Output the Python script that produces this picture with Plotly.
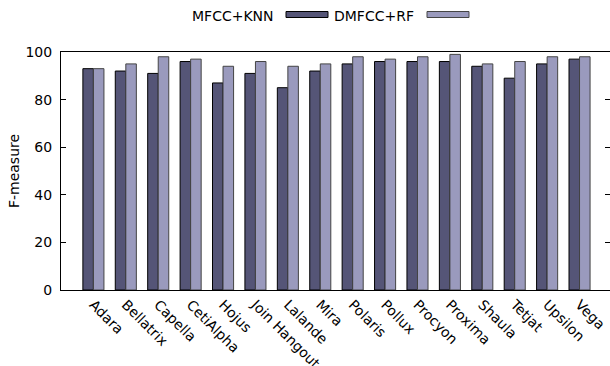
import plotly.graph_objects as go

categories = ["Adara", "Bellatrix", "Capella", "CetiAlpha", "Hojus", "Join Hangout",
              "Lalande", "Mira", "Polaris", "Pollux", "Procyon", "Proxima",
              "Shaula", "Tetjat", "Upsilon", "Vega"]
mfcc_knn = [93, 92, 91, 96, 87, 91, 85, 92, 95, 96, 96, 96, 94, 89, 95, 97]
dmfcc_rf = [93, 95, 98, 97, 94, 96, 94, 95, 98, 97, 98, 99, 95, 96, 98, 98]
y_ticks = [0, 20, 40, 60, 80, 100]
series_names = ["MFCC+KNN", "DMFCC+RF"]

dark = "#555577"
light = "#9a9abd"
font = "DejaVu Sans"
fs = 14

fig = go.Figure()
fig.add_trace(go.Bar(x=categories, y=mfcc_knn, name=series_names[0],
                     marker=dict(color=dark, line=dict(color="#000000", width=1)),
                     showlegend=False))
fig.add_trace(go.Bar(x=categories, y=dmfcc_rf, name=series_names[1],
                     marker=dict(color=light, line=dict(color="#444444", width=1)),
                     showlegend=False))
# invisible trace for right-side mirror ticks
fig.add_trace(go.Scatter(x=[categories[0]], y=[0], yaxis="y2", mode="markers",
                         marker=dict(opacity=0), showlegend=False, hoverinfo="skip"))

W, H = 610, 366
L, R, T, B = 61, 0, 52, 76
fig.update_layout(
    width=W, height=H,
    margin=dict(l=L, r=R, t=T, b=B),
    paper_bgcolor="white", plot_bgcolor="white",
    barmode="group", bargap=0.35, bargroupgap=0.0,
    font=dict(family=font, size=fs, color="#000000"),
    xaxis=dict(type="category", range=[-1, 15.94], showline=True, linecolor="#000000",
               linewidth=1, mirror=True, ticks="", tickangle=45, automargin=False,
               tickfont=dict(family=font, size=fs), showgrid=False, zeroline=False),
    yaxis=dict(range=[0, 100], tickvals=y_ticks, showline=True, linecolor="#000000",
               linewidth=1, ticks="inside", ticklen=5, tickcolor="#000000",
               showgrid=False, zeroline=False, automargin=False, ticklabelstandoff=5,
               title=dict(text="F-measure", font=dict(family=font, size=fs), standoff=2),
               tickfont=dict(family=font, size=fs)),
    yaxis2=dict(range=[0, 100], tickvals=y_ticks[1:-1], overlaying="y", side="right",
                showline=False, ticks="inside", ticklen=5, tickcolor="#000000",
                showticklabels=False, showgrid=False, zeroline=False, automargin=False),
)

# gnuplot-style legend: text then sample box
PW, PH = W - L - R, H - T - B
legend_items = [(series_names[0], dark, "#000000", 276, 286, 328),
                (series_names[1], light, "#444444", 416, 427, 469)]
for name, fill, edge, text_right, x0, x1 in legend_items:
    fig.add_annotation(text=name, xref="paper", yref="paper",
                       x=(text_right - L) / PW, y=1 + (T - 15.5) / PH,
                       xanchor="right", yanchor="middle", showarrow=False,
                       font=dict(family=font, size=fs, color="#000000"))
    fig.add_shape(type="rect", xref="paper", yref="paper",
                  x0=(x0 - L) / PW, x1=(x1 - L) / PW,
                  y0=1 + (T - 17.5) / PH, y1=1 + (T - 11.5) / PH,
                  fillcolor=fill, line=dict(color=edge, width=1))

fig.write_html("out.html", config={"displayModeBar": False},
               post_script="document.body.style.margin='0';document.body.style.overflow='hidden';")
